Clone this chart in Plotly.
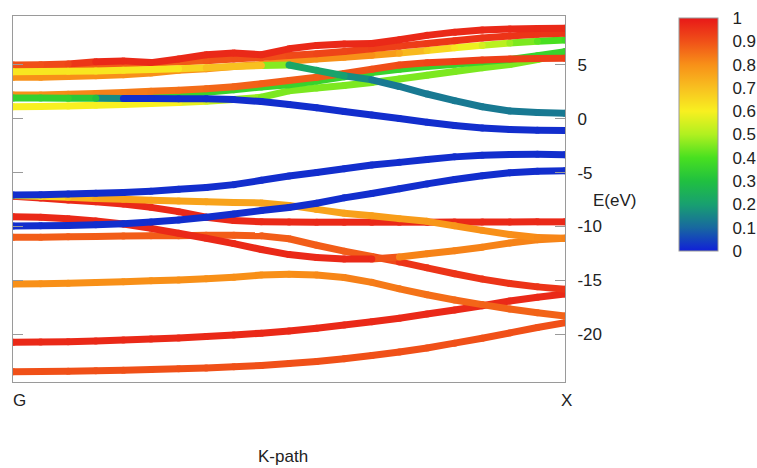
import plotly.graph_objects as go
from plotly.colors import sample_colorscale

# k-path grid (G -> X)
K = [0.0, 0.05, 0.10, 0.15, 0.20, 0.25, 0.30, 0.35, 0.40, 0.45, 0.50,
     0.55, 0.60, 0.65, 0.70, 0.75, 0.80, 0.85, 0.90, 0.95, 1.0]

# ---- valence bands (E in eV) and weights ----
E_A = [-23.50, -23.49, -23.47, -23.42, -23.36, -23.30, -23.23, -23.15, -23.05, -22.92, -22.75,
       -22.55, -22.30, -22.00, -21.68, -21.30, -20.85, -20.40, -19.90, -19.40, -18.95]
W_A = [0.9] * 21
E_B = [-20.77, -20.75, -20.71, -20.64, -20.56, -20.47, -20.37, -20.24, -20.09, -19.92, -19.72,
       -19.46, -19.16, -18.86, -18.54, -18.14, -17.77, -17.37, -16.93, -16.59, -16.28]
W_B = [0.97] * 21
E_C = [-15.35, -15.33, -15.29, -15.22, -15.14, -15.06, -14.98, -14.87, -14.73, -14.52, -14.45,
       -14.52, -14.75, -15.20, -15.80, -16.35, -16.84, -17.27, -17.68, -18.02, -18.33]
W_C = [0.8, 0.8, 0.8, 0.8, 0.8, 0.8, 0.8, 0.8, 0.8, 0.8, 0.8,
       0.81, 0.82, 0.83, 0.84, 0.85, 0.86, 0.87, 0.87, 0.87, 0.87]
E_O2 = [-11.02, -11.00, -10.97, -10.93, -10.90, -10.88, -10.87, -10.83, -10.82, -10.88, -11.15,
        -11.75, -12.30, -12.80, -13.30, -13.85, -14.40, -14.90, -15.30, -15.62, -15.85]
W_O2 = [0.88] * 14 + [0.95] * 7
E_R2 = [-9.10, -9.16, -9.28, -9.50, -9.78, -10.18, -10.64, -11.10, -11.60, -12.15, -12.62,
        -12.90, -13.02, -13.03, -12.85, -12.55, -12.27, -11.93, -11.55, -11.25, -11.10]
W_R2 = [0.97] * 14 + [0.82] * 7
E_R1 = [-7.20, -7.36, -7.55, -7.70, -7.92, -8.23, -8.63, -9.15, -9.45, -9.58, -9.60,
        -9.61, -9.61, -9.61, -9.61, -9.61, -9.60, -9.60, -9.59, -9.58, -9.58]
W_R1 = [0.97] * 21
E_O1 = [-7.12, -7.20, -7.30, -7.40, -7.48, -7.56, -7.64, -7.71, -7.78, -7.82, -8.05,
        -8.42, -8.78, -9.02, -9.28, -9.53, -9.95, -10.37, -10.75, -11.03, -11.10]
W_O1 = [0.55, 0.62, 0.7, 0.75, 0.76, 0.76, 0.76, 0.76, 0.76, 0.76, 0.76,
        0.76, 0.76, 0.77, 0.77, 0.78, 0.79, 0.8, 0.8, 0.81, 0.82]
E_VB2 = [-9.96, -9.95, -9.92, -9.85, -9.75, -9.60, -9.40, -9.15, -8.85, -8.52, -8.25,
         -7.85, -7.35, -6.95, -6.50, -6.05, -5.65, -5.30, -5.02, -4.88, -4.83]
W_VB2 = [0.02] * 21
E_VB1 = [-7.08, -7.06, -7.00, -6.93, -6.85, -6.74, -6.55, -6.38, -6.12, -5.72, -5.32,
         -5.00, -4.65, -4.30, -4.05, -3.79, -3.54, -3.38, -3.32, -3.30, -3.34]
W_VB1 = [0.02] * 21

# ---- conduction bands ----
E_Y1 = [1.12, 1.14, 1.18, 1.25, 1.33, 1.42, 1.52, 1.63, 1.80, 2.00, 2.60,
        2.85, 3.10, 3.38, 3.70, 4.05, 4.40, 4.75, 5.05, 5.50, 6.15]
W_Y1 = [0.6, 0.6, 0.6, 0.6, 0.6, 0.6, 0.6, 0.55, 0.5, 0.45, 0.45,
        0.45, 0.45, 0.45, 0.45, 0.45, 0.45, 0.45, 0.45, 0.45, 0.45]
E_C2 = [2.05, 2.06, 2.08, 2.12, 2.18, 2.26, 2.34, 2.47, 2.70, 2.95, 3.15,
        3.50, 3.90, 4.30, 4.60, 4.85, 5.07, 5.30, 5.50, 5.85, 6.24]
W_C2 = [0.36] * 21
E_U4 = [2.20, 2.22, 2.27, 2.35, 2.45, 2.55, 2.65, 2.78, 2.97, 3.25, 3.55,
        3.85, 4.20, 4.60, 5.00, 5.20, 5.33, 5.45, 5.55, 5.60, 5.62]
W_U4 = [0.8, 0.8, 0.81, 0.82, 0.83, 0.84, 0.85, 0.86, 0.87, 0.88, 0.88,
        0.88, 0.89, 0.9, 0.91, 0.92, 0.93, 0.93, 0.93, 0.93, 0.93]
E_U3 = [3.85, 3.87, 3.92, 4.00, 4.10, 4.25, 4.50, 4.65, 4.85, 5.05, 5.35,
        5.55, 5.72, 5.90, 6.10, 6.35, 6.60, 6.82, 7.05, 7.20, 7.32]
W_U3 = [0.8, 0.8, 0.8, 0.8, 0.8, 0.8, 0.8, 0.8, 0.8, 0.8, 0.8,
        0.8, 0.8, 0.8, 0.75, 0.68, 0.62, 0.55, 0.48, 0.42, 0.38]
E_U2 = [4.95, 4.95, 4.97, 5.00, 5.08, 5.18, 5.28, 5.40, 5.55, 5.70, 5.88,
        6.05, 6.25, 6.50, 6.75, 7.00, 7.25, 7.50, 7.70, 7.85, 7.95]
W_U2 = [0.88, 0.88, 0.88, 0.88, 0.88, 0.88, 0.88, 0.89, 0.9, 0.9, 0.91,
        0.92, 0.92, 0.93, 0.93, 0.94, 0.95, 0.95, 0.95, 0.95, 0.95]
E_U1 = [5.00, 5.02, 5.10, 5.30, 5.38, 5.22, 5.55, 5.95, 6.12, 5.95, 6.50,
        6.82, 6.95, 7.00, 7.35, 7.75, 8.05, 8.25, 8.35, 8.40, 8.41]
W_U1 = [0.9, 0.9, 0.92] + [0.97] * 18
E_T = [4.38, 4.40, 4.42, 4.45, 4.50, 4.57, 4.65, 4.75, 4.85, 4.95, 5.00,
       4.50, 4.00, 3.62, 3.00, 2.30, 1.68, 1.12, 0.72, 0.58, 0.51]
W_T = [0.62, 0.62, 0.62, 0.62, 0.62, 0.62, 0.62, 0.7, 0.7, 0.7, 0.22,
       0.22, 0.2, 0.13, 0.13, 0.13, 0.13, 0.13, 0.13, 0.13, 0.13]
E_C1 = [1.93, 1.92, 1.91, 1.90, 1.89, 1.88, 1.87, 1.85, 1.78, 1.60, 1.32,
        1.02, 0.68, 0.35, 0.02, -0.33, -0.62, -0.85, -1.00, -1.07, -1.10]
W_C1 = [0.35, 0.35, 0.35, 0.3] + [0.02] * 17

BANDS = [(E_A, W_A), (E_B, W_B), (E_C, W_C), (E_O2, W_O2), (E_R2, W_R2),
         (E_R1, W_R1), (E_O1, W_O1), (E_VB2, W_VB2), (E_VB1, W_VB1),
         (E_Y1, W_Y1), (E_C2, W_C2), (E_U4, W_U4), (E_U3, W_U3), (E_U2, W_U2),
         (E_U1, W_U1), (E_T, W_T), (E_C1, W_C1)]

Y_TICKS = [5, 0, -5, -10, -15, -20]
CB_TICKS = [1, 0.9, 0.8, 0.7, 0.6, 0.5, 0.4, 0.3, 0.2, 0.1, 0]
CB_TEXT = ["1", "0.9", "0.8", "0.7", "0.6", "0.5", "0.4", "0.3", "0.2", "0.1", "0"]

SCALE = [[0.0, "#1020d8"], [0.1, "#1868a0"], [0.2, "#18a070"], [0.3, "#20c040"],
         [0.4, "#48e020"], [0.5, "#b0f020"], [0.6, "#f8f020"], [0.7, "#f8c020"],
         [0.8, "#f89018"], [0.9, "#f05018"], [1.0, "#e81818"]]

FONT = "Liberation Sans, Arial, sans-serif"
LW = 7

fig = go.Figure()
for E, W in BANDS:
    for i in range(len(K) - 1):
        c = sample_colorscale(SCALE, [(W[i] + W[i + 1]) / 2])[0]
        fig.add_trace(go.Scatter(x=[K[i], K[i + 1]], y=[E[i], E[i + 1]], mode="lines",
                                 line=dict(color=c, width=LW), hoverinfo="skip",
                                 showlegend=False))
    fig.add_trace(go.Scatter(x=K, y=E, mode="markers", showlegend=False,
                             marker=dict(size=LW, color=W, coloraxis="coloraxis",
                                         line=dict(width=0))))

W_PX, H_PX = 757, 468
L, R, T, B = 13, 565, 16, 382
PW, PH = R - L, B - T

# colorbar geometry (pixels)
CB_X0, CB_X1, CB_Y0, CB_LEN = 679, 718, 18, 233

def px_x(p):
    return (p - L) / PW

def px_y(p):
    return (B - p) / PH

# small inside tick dashes on both edges of the colour bar
shapes = []
for v in CB_TICKS[1:-1]:
    yy = px_y(CB_Y0 + (1 - v) * CB_LEN)
    for xa, xb in ((CB_X0, CB_X0 + 6), (CB_X1 - 6, CB_X1)):
        shapes.append(dict(type="line", xref="paper", yref="paper",
                           x0=px_x(xa), x1=px_x(xb), y0=yy, y1=yy,
                           line=dict(color="#333333", width=1)))

fig.update_layout(
    width=W_PX, height=H_PX,
    margin=dict(l=L, r=W_PX - R, t=T, b=H_PX - B, autoexpand=False),
    paper_bgcolor="white", plot_bgcolor="white",
    font=dict(family=FONT, size=17, color="#222222"),
    coloraxis=dict(
        cmin=0, cmax=1, colorscale=SCALE,
        colorbar=dict(
            x=px_x(CB_X0), xanchor="left",
            y=px_y(CB_Y0), yanchor="top",
            thicknessmode="pixels", thickness=CB_X1 - CB_X0,
            lenmode="pixels", len=CB_LEN,
            tickvals=CB_TICKS, ticktext=CB_TEXT,
            ticks="outside", ticklen=11, tickcolor="rgba(0,0,0,0)",
            outlinewidth=1, outlinecolor="#999999",
            tickfont=dict(family=FONT, size=17, color="#222222"),
            xpad=0, ypad=0,
        ),
    ),
    xaxis=dict(range=[0, 1], showgrid=False, zeroline=False, showline=True,
               linecolor="#9a9a9a", linewidth=1, mirror=True,
               showticklabels=False, ticks=""),
    yaxis=dict(range=[-24.46, 9.55], side="right", showgrid=False, zeroline=False,
               showline=True, linecolor="#9a9a9a", linewidth=1, mirror="ticks",
               ticks="inside", ticklen=10, tickcolor="#9a9a9a",
               tickvals=Y_TICKS, ticktext=[str(v) for v in Y_TICKS],
               ticklabelstandoff=8,
               tickfont=dict(family=FONT, size=17, color="#222222")),
    shapes=shapes,
    annotations=[
        dict(text="G", xref="paper", yref="paper", x=px_x(19), y=px_y(400),
             showarrow=False, xanchor="center", yanchor="middle"),
        dict(text="X", xref="paper", yref="paper", x=px_x(566), y=px_y(400),
             showarrow=False, xanchor="center", yanchor="middle"),
        dict(text="E(eV)", xref="paper", yref="paper", x=px_x(614), y=px_y(200),
             showarrow=False, xanchor="center", yanchor="middle"),
        dict(text="K-path", xref="paper", yref="paper", x=px_x(283), y=px_y(456),
             showarrow=False, xanchor="center", yanchor="middle"),
    ],
)

fig.write_html("out.html")
